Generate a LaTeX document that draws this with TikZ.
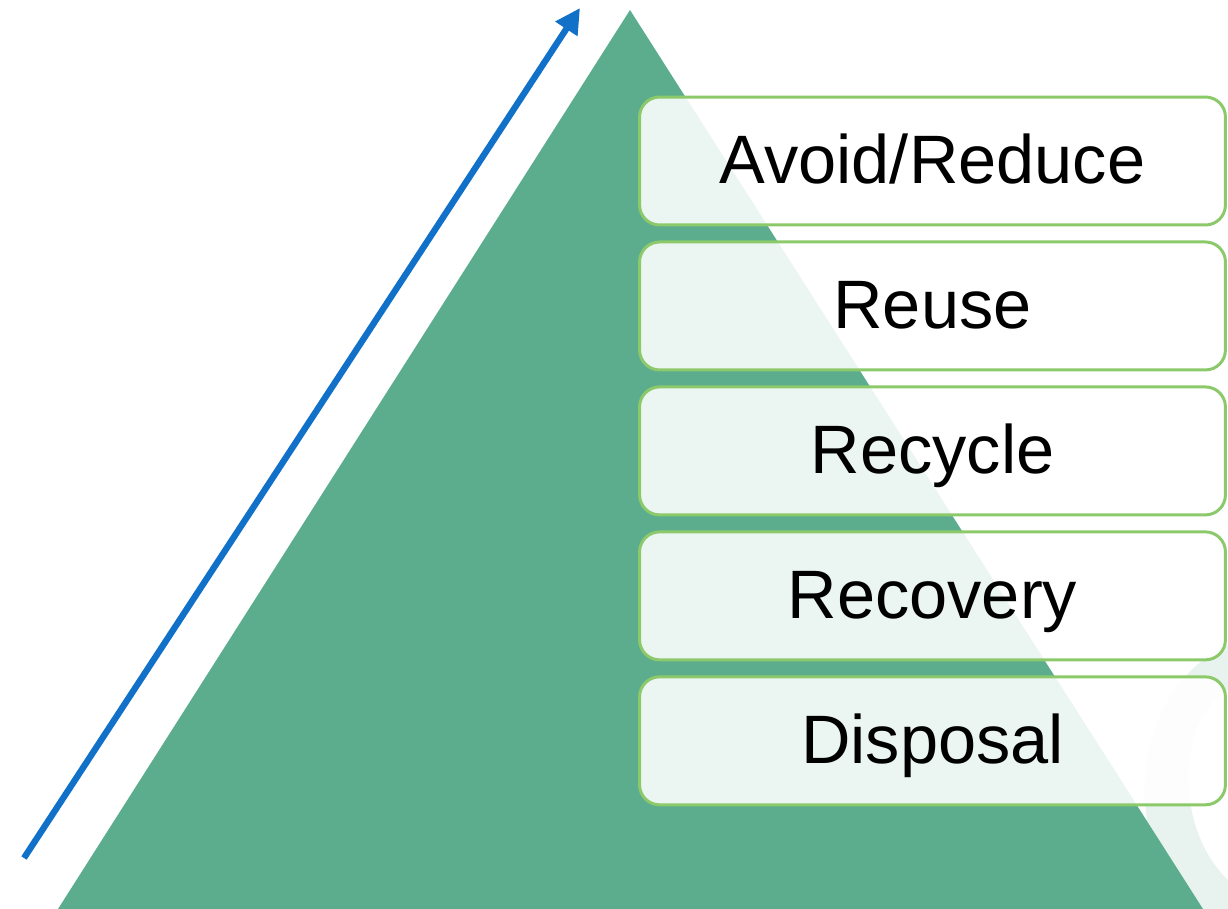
\documentclass[tikz,border=0pt]{standalone}
\usepackage{fontspec}
\setmainfont{Liberation Sans}
\usepackage{tikz}
\usetikzlibrary{%
	arrows.meta,%
	positioning%
}
\definecolor{Pyramid}{HTML}{5BAD8E}
\definecolor{Leaf}{HTML}{8CC96A}
\definecolor{Trend}{HTML}{1170C8}
\definecolor{Swirl}{HTML}{D2E8DF}

\tikzset{
	level/.style={draw=Leaf,line width=1.7pt,fill=white,fill opacity=0.88,text opacity=1,
		rounded corners=0.4cm,minimum width=11.72cm,minimum height=2.56cm,
		font=\fontsize{39}{47}\selectfont,text height=25.6pt,text depth=0pt},
	trend/.style={draw=Trend,line width=3.6pt,-{Triangle[length=0.5cm,width=0.5cm]}}
}

\begin{document}
\begin{tikzpicture}[x=0.02cm,y=-0.02cm,node distance=0.28cm]
\useasboundingbox (0,0) rectangle (1228,909);

% faint swirl in the corner
\fill [Swirl,opacity=0.5] (1228,645) .. controls (1130,690) and (1120,840) .. (1190,909) -- (1228,909) -- (1228,880) .. controls (1175,830) and (1175,720) .. (1228,690) -- cycle;

\coordinate (top) at (630,10);
\coordinate (left) at (58,909);
\coordinate (right) at (1203,909);
\fill [Pyramid] (left) -- (top) -- (right) -- cycle;

\coordinate (tail) at (24,858);
\coordinate (head) at (580,8);
\draw [trend] (tail) -- (head);

\node [level] (avoid) at (932.5,161) {Avoid/Reduce};
\node [level,below=of avoid] (reuse) {Reuse};
\node [level,below=of reuse] (recycle) {Recycle};
\node [level,below=of recycle] (recovery) {Recovery};
\node [level,below=of recovery] (disposal) {Disposal};
\end{tikzpicture}
\end{document}
